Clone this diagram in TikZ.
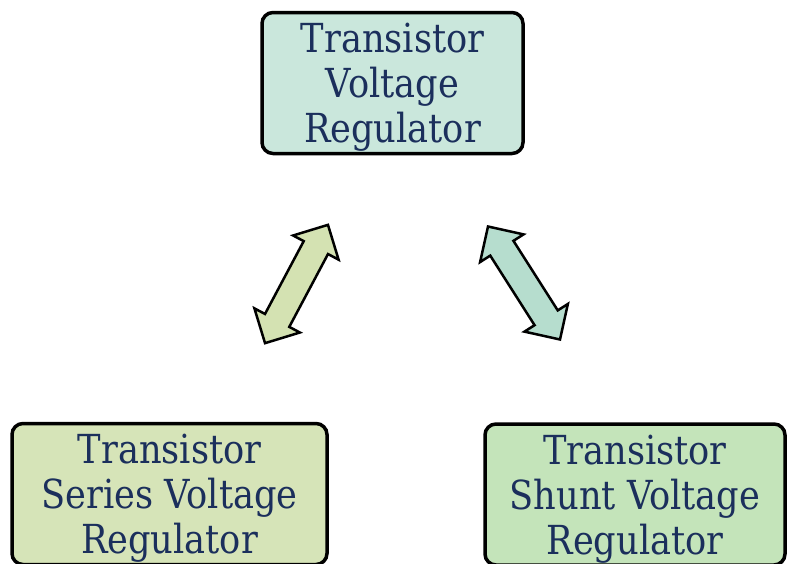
\documentclass[tikz,border=0pt]{standalone}
\usepackage{fontspec}
\setmainfont{DejaVu Serif}[FakeStretch=0.88]
\usetikzlibrary{shapes.arrows}
\definecolor{regtext}{HTML}{1B2F5C}
\definecolor{topfill}{RGB}{202,231,220}
\definecolor{seriesfill}{RGB}{214,228,184}
\definecolor{shuntfill}{RGB}{196,228,186}
\definecolor{leftarrow}{RGB}{212,226,178}
\definecolor{rightarrow}{RGB}{182,221,206}
\tikzset{reg box/.style={draw=black,line width=3.5pt,rounded corners=11pt,text=regtext,align=center,inner sep=0pt,text depth=0pt,minimum height=141pt,font=\fontsize{40}{45}\selectfont},
         link arrow/.style={double arrow,draw=black,line width=2.5pt,inner sep=12.5pt,double arrow head extend=12pt,minimum height=134pt}}

\begin{document}
\begin{tikzpicture}[x=1pt,y=-1pt]
        \useasboundingbox (0,0) rectangle (790,563);
        \clip (0,0) rectangle (790,563);

        \node (reg)	[reg box,fill=topfill,minimum width=261pt] at	(392.5,83)	{Transistor\\Voltage\\Regulator};
        \node (series)	[reg box,fill=seriesfill,minimum width=315pt] at	(169.5,494)	{Transistor\\Series Voltage\\Regulator};
        \node (shunt)	[reg box,fill=shuntfill,minimum width=300pt] at	(635,494.5)	{Transistor\\Shunt Voltage\\Regulator};

        \node (left)	[link arrow,fill=leftarrow,rotate=62] at	(296.5,284)	{};
        \node (right)	[link arrow,fill=rightarrow,rotate=-57.5] at	(524,283)	{};
\end{tikzpicture}
\end{document}
